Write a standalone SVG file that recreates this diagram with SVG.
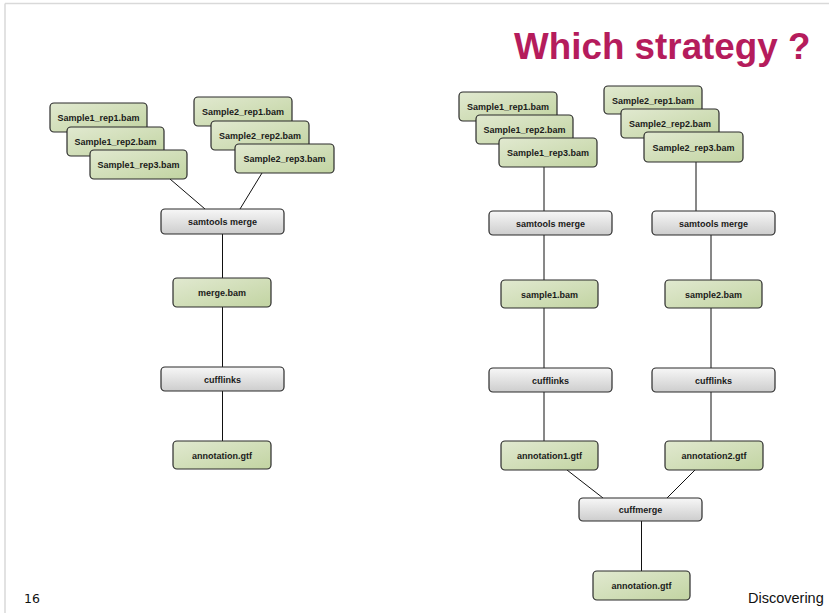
<svg xmlns="http://www.w3.org/2000/svg" width="829" height="613" viewBox="0 0 829 613">
<defs>
<linearGradient id="gGreen" x1="0" y1="0" x2="1" y2="1">
<stop offset="0" stop-color="#e1e9d0"/>
<stop offset="1" stop-color="#c2d4a2"/>
</linearGradient>
<linearGradient id="gGray" x1="0" y1="0" x2="0" y2="1">
<stop offset="0" stop-color="#f7f7f7"/>
<stop offset="1" stop-color="#cdcdcd"/>
</linearGradient>
<style>
.g rect{fill:url(#gGreen);stroke:#2b2b2b;stroke-width:1.2}
.p rect{fill:url(#gGray);stroke:#2b2b2b;stroke-width:1.2}
text.l{font-family:"Liberation Sans",Arial,sans-serif;font-weight:bold;font-size:9px;fill:#1a1a1a;text-anchor:middle}
.c line{stroke:#111;stroke-width:1}
</style>
</defs>
<rect width="829" height="613" fill="#ffffff"/>
<line x1="5" y1="3.5" x2="829" y2="3.5" stroke="#d9d9d9" stroke-width="1.5"/>
<line x1="5" y1="3.5" x2="5" y2="613" stroke="#d9d9d9" stroke-width="1.5"/>
<text x="514" y="59" font-family="'Liberation Sans',Arial,sans-serif" font-weight="bold" font-size="36.8" fill="#b51c5c">Which strategy ?</text>
<text x="24" y="603" font-family="'DejaVu Sans',sans-serif" font-size="12.5" fill="#111">16</text>
<text x="748" y="603" font-family="'Liberation Sans',Arial,sans-serif" font-size="14.5" fill="#111">Discovering</text>

<g id="connectors" class="c">
<line x1="170" y1="179" x2="205" y2="209"/>
<line x1="262" y1="173" x2="240" y2="209"/>
<line x1="222.5" y1="234" x2="222.5" y2="278"/>
<line x1="222.5" y1="307" x2="222.5" y2="367"/>
<line x1="222.5" y1="391" x2="222.5" y2="441"/>
<line x1="544" y1="167" x2="544" y2="211"/>
<line x1="544" y1="235" x2="544" y2="280"/>
<line x1="544" y1="308" x2="544" y2="368"/>
<line x1="544" y1="392" x2="544" y2="441"/>
<line x1="696" y1="162" x2="696" y2="211"/>
<line x1="711" y1="235" x2="711" y2="280"/>
<line x1="711" y1="308" x2="711" y2="368"/>
<line x1="711" y1="392" x2="711" y2="441"/>
<line x1="567" y1="470" x2="603" y2="498"/>
<line x1="695" y1="470" x2="667" y2="498"/>
<line x1="641.5" y1="521" x2="641.5" y2="571"/>
</g>

<g id="L_s1r1" class="g"><rect x="50" y="103" width="97" height="29" rx="4"/><text class="l" x="98.5" y="121">Sample1_rep1.bam</text></g>
<g id="L_s1r2" class="g"><rect x="67" y="127" width="97" height="29" rx="4"/><text class="l" x="115.5" y="145">Sample1_rep2.bam</text></g>
<g id="L_s1r3" class="g"><rect x="90" y="150" width="97" height="29" rx="4"/><text class="l" x="138.5" y="168">Sample1_rep3.bam</text></g>
<g id="L_s2r1" class="g"><rect x="194" y="97" width="98" height="29" rx="4"/><text class="l" x="243" y="115">Sample2_rep1.bam</text></g>
<g id="L_s2r2" class="g"><rect x="211" y="121" width="98" height="29" rx="4"/><text class="l" x="260" y="139">Sample2_rep2.bam</text></g>
<g id="L_s2r3" class="g"><rect x="235" y="144" width="99" height="29" rx="4"/><text class="l" x="284.5" y="162">Sample2_rep3.bam</text></g>
<g id="L_merge" class="p"><rect x="161" y="209" width="123" height="25" rx="4"/><text class="l" x="222.5" y="225">samtools merge</text></g>
<g id="L_mergebam" class="g"><rect x="173" y="278" width="98" height="29" rx="4"/><text class="l" x="222" y="296">merge.bam</text></g>
<g id="L_cufflinks" class="p"><rect x="161" y="367" width="123" height="24" rx="4"/><text class="l" x="222.5" y="382.5">cufflinks</text></g>
<g id="L_annot" class="g"><rect x="173" y="441" width="98" height="28" rx="4"/><text class="l" x="222" y="458.5">annotation.gtf</text></g>

<g id="R_s1r1" class="g"><rect x="459" y="92" width="98" height="29" rx="4"/><text class="l" x="508" y="110">Sample1_rep1.bam</text></g>
<g id="R_s1r2" class="g"><rect x="476" y="115" width="97" height="29" rx="4"/><text class="l" x="524.5" y="133">Sample1_rep2.bam</text></g>
<g id="R_s1r3" class="g"><rect x="499" y="138" width="98" height="29" rx="4"/><text class="l" x="548" y="156">Sample1_rep3.bam</text></g>
<g id="R_s2r1" class="g"><rect x="604" y="86" width="98" height="28" rx="4"/><text class="l" x="653" y="103.5">Sample2_rep1.bam</text></g>
<g id="R_s2r2" class="g"><rect x="621" y="109" width="98" height="29" rx="4"/><text class="l" x="670" y="127">Sample2_rep2.bam</text></g>
<g id="R_s2r3" class="g"><rect x="644" y="132" width="99" height="30" rx="4"/><text class="l" x="693.5" y="150.5">Sample2_rep3.bam</text></g>
<g id="R_merge1" class="p"><rect x="489" y="211" width="123" height="24" rx="4"/><text class="l" x="550.5" y="226.5">samtools merge</text></g>
<g id="R_merge2" class="p"><rect x="652" y="211" width="123" height="24" rx="4"/><text class="l" x="713.5" y="226.5">samtools merge</text></g>
<g id="R_sample1" class="g"><rect x="501" y="280" width="97" height="28" rx="4"/><text class="l" x="549.5" y="297.5">sample1.bam</text></g>
<g id="R_sample2" class="g"><rect x="665" y="280" width="97" height="28" rx="4"/><text class="l" x="713.5" y="297.5">sample2.bam</text></g>
<g id="R_cuff1" class="p"><rect x="489" y="368" width="123" height="24" rx="4"/><text class="l" x="550.5" y="383.5">cufflinks</text></g>
<g id="R_cuff2" class="p"><rect x="652" y="368" width="123" height="24" rx="4"/><text class="l" x="713.5" y="383.5">cufflinks</text></g>
<g id="R_annot1" class="g"><rect x="501" y="441" width="97" height="29" rx="4"/><text class="l" x="549.5" y="459">annotation1.gtf</text></g>
<g id="R_annot2" class="g"><rect x="665" y="441" width="98" height="29" rx="4"/><text class="l" x="714" y="459">annotation2.gtf</text></g>
<g id="R_cuffmerge" class="p"><rect x="579" y="498" width="123" height="23" rx="4"/><text class="l" x="640.5" y="513">cuffmerge</text></g>
<g id="R_annot" class="g"><rect x="593" y="571" width="97" height="29" rx="4"/><text class="l" x="641.5" y="589">annotation.gtf</text></g>
</svg>
